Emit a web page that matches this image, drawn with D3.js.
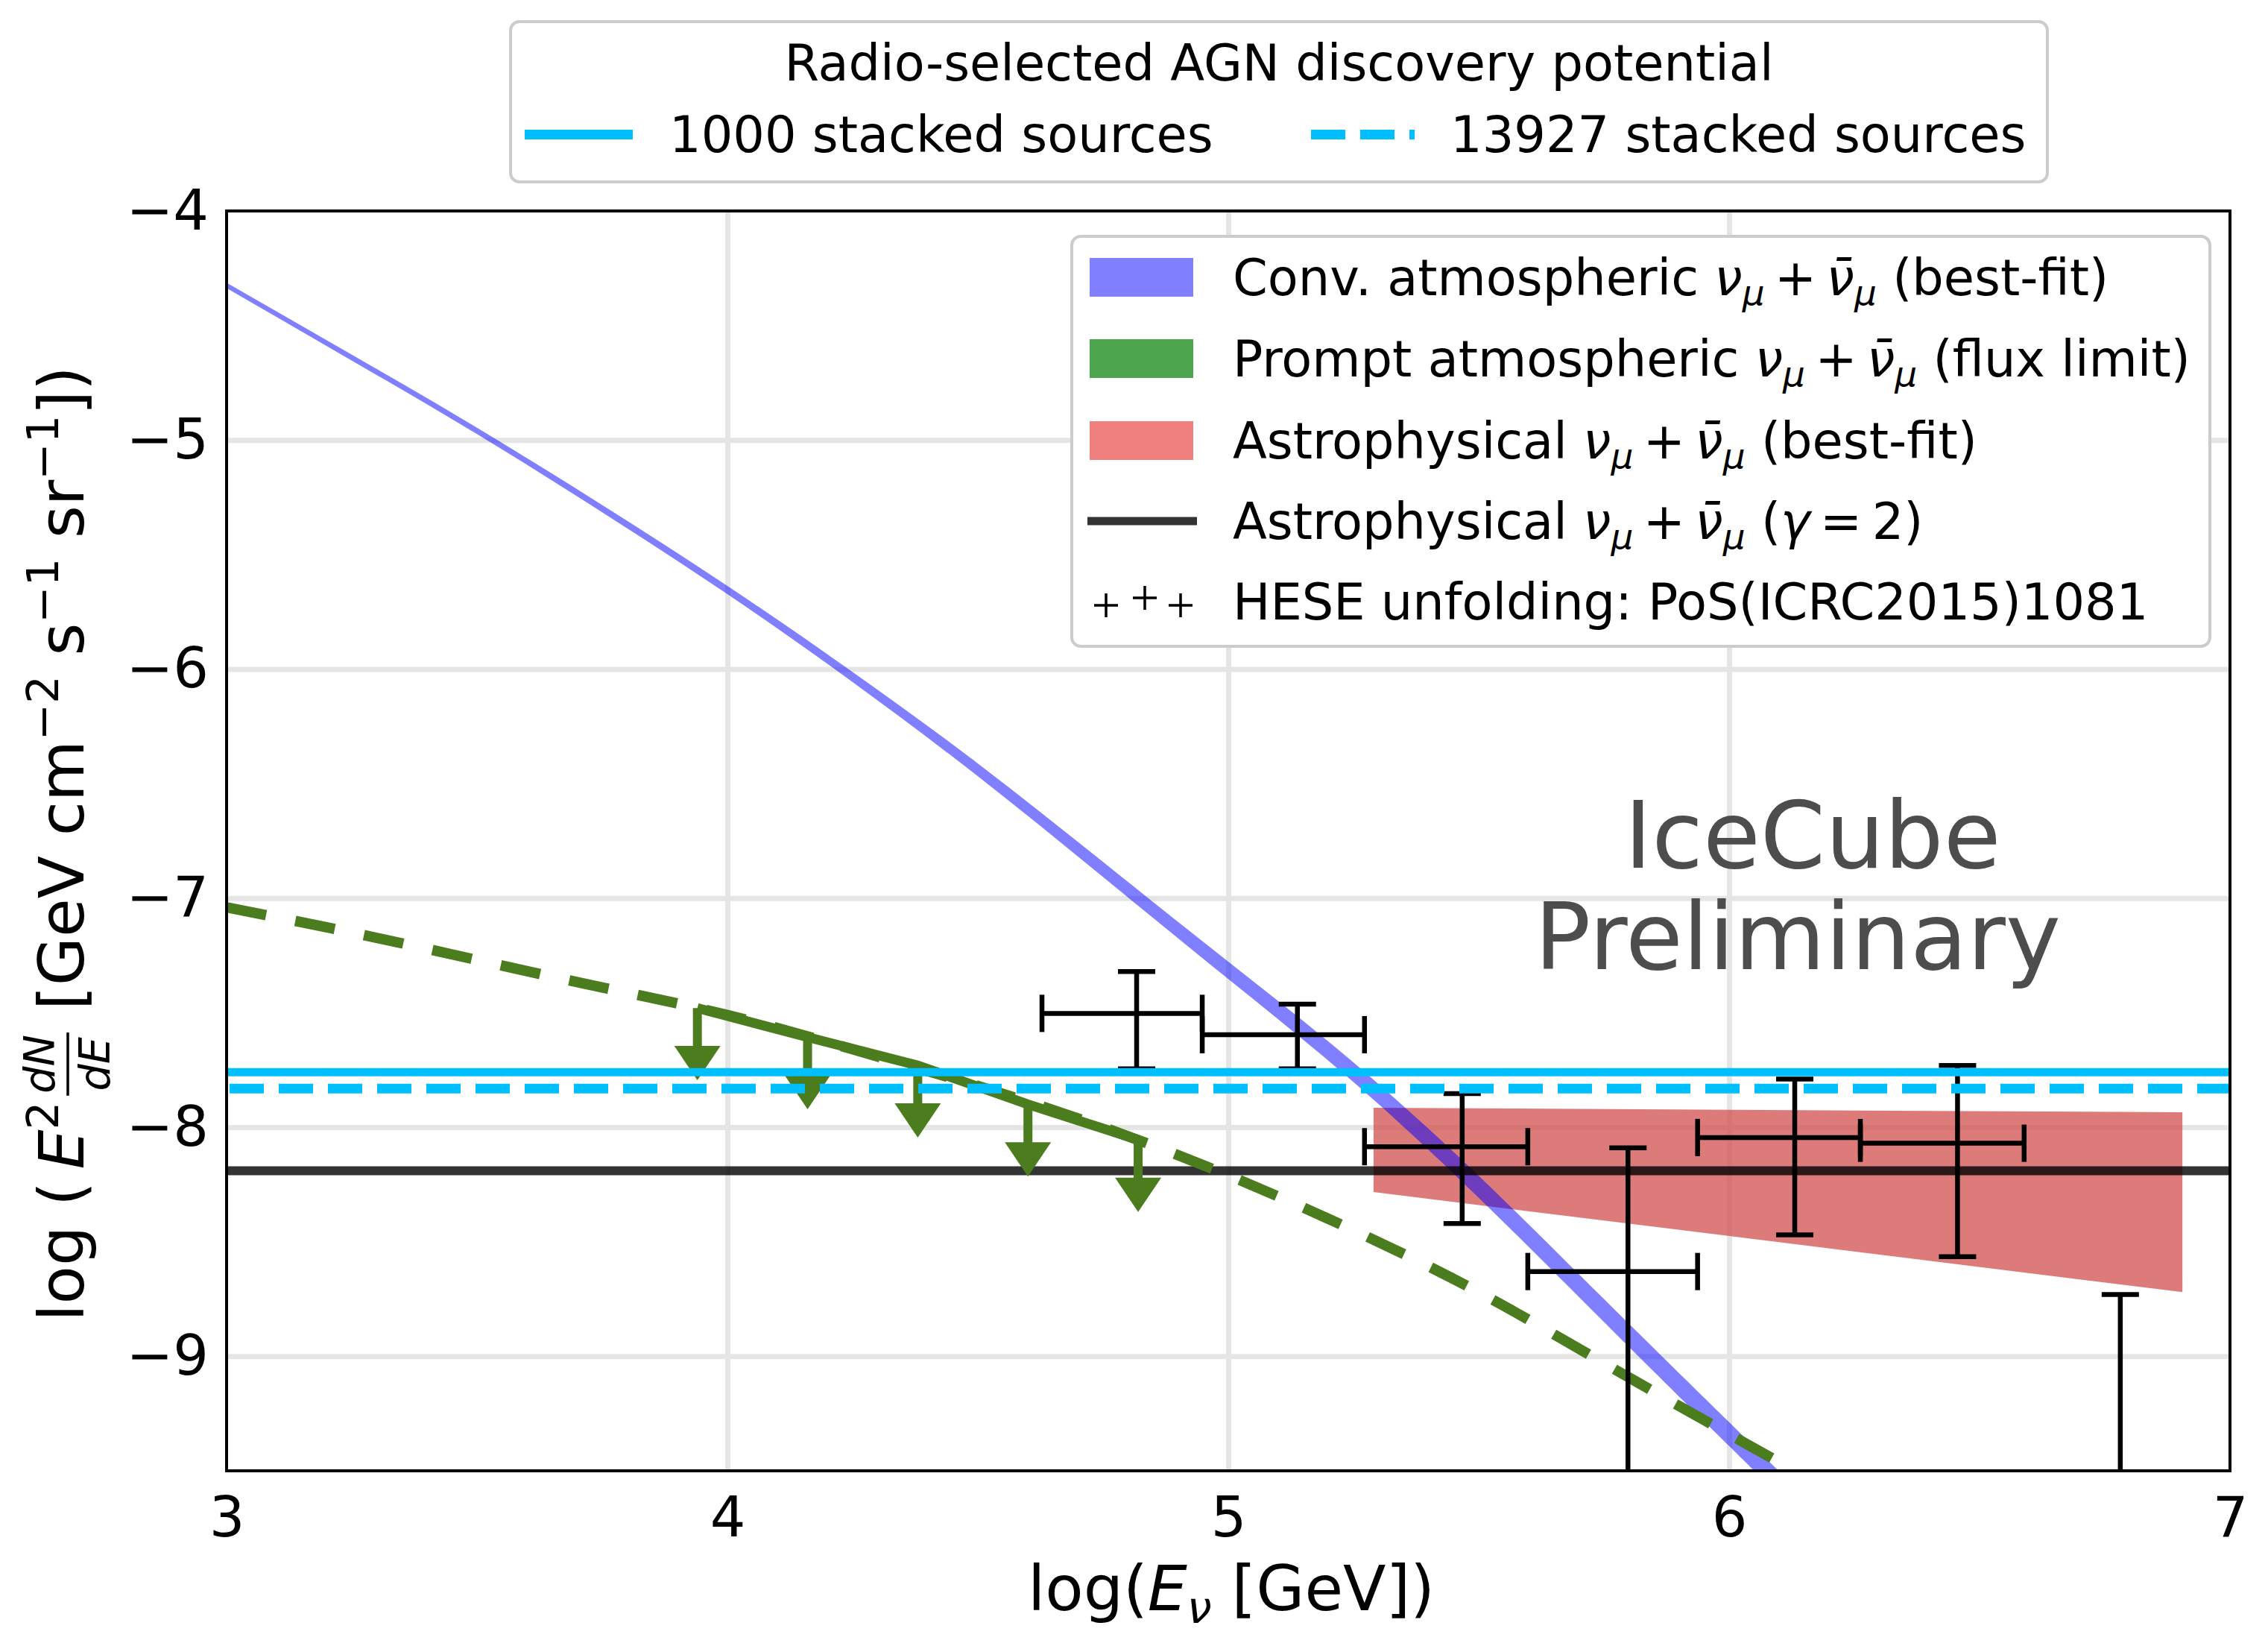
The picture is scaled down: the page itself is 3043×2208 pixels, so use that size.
<!DOCTYPE html>
<html>
<head>
<meta charset="utf-8">
<title>IceCube - AGN discovery potential</title>
<style>
  body { margin: 0; background: #fff; }
  text { font-family: "DejaVu Sans", sans-serif; white-space: pre; }
</style>
</head>
<body>
<script src="https://d3js.org/d3.v7.min.js"></script>
<script>
// conventional atmospheric band (log E, log flux)
var convX     = [3.0, 3.25, 3.5, 3.75, 4.0, 4.25, 4.5, 4.75, 5.0, 5.25, 5.5, 5.75, 6.0, 6.1];
var convUpper = [-4.313, -4.627, -4.946, -5.284, -5.637, -6.013, -6.412, -6.842, -7.277, -7.717, -8.212, -8.75, -9.288, -9.503];
var convLower = [-4.337, -4.653, -4.974, -5.316, -5.673, -6.057, -6.468, -6.908, -7.353, -7.803, -8.308, -8.85, -9.392, -9.607];

// prompt model (dashed) and the prompt flux limit with arrows
var promptX = [3.0, 3.25, 3.5, 3.75, 4.0, 4.25, 4.5, 4.75, 5.0, 5.25, 5.5, 5.75, 6.0, 6.09];
var promptY = [-7.04, -7.15, -7.27, -7.39, -7.51, -7.66, -7.82, -8.0, -8.21, -8.45, -8.72, -9.03, -9.34, -9.45];
var limitX = [3.94, 4.16, 4.38, 4.60, 4.82];
var limitY = [-7.48, -7.607, -7.73, -7.90, -8.055];
var limitDrop = 0.315;

// astrophysical best-fit band and gamma = 2 line
var astroX = [5.29, 6.905];
var astroUpper = [-7.915, -7.935];
var astroLower = [-8.283, -8.72];
var astroGamma2 = -8.19;

// discovery potentials
var dp1000 = -7.76;
var dp13927 = -7.831;

// HESE unfolding points
var heseX   = [4.817, 5.138, 5.467, 5.798, 6.131, 6.456, 6.781];
var heseXlo = [4.628, 4.948, 5.272, 5.598, 5.937, 6.262, 6.589];
var heseXhi = [4.948, 5.272, 5.598, 5.937, 6.262, 6.589, 6.91];
var heseY   = [-7.503, -7.596, -8.085, -8.63, -8.045, -8.07, -10.5];
var heseYlo = [-7.745, -7.745, -8.42, -10.5, -8.47, -8.565, -11];
var heseYhi = [-7.32, -7.463, -7.853, -8.09, -7.79, -7.73, -8.73];

var xTicks = [3, 4, 5, 6, 7];
var yTicks = [-4, -5, -6, -7, -8, -9];

var W = 3043, H = 2208;
var L = 304, R = 2992, T = 283, B = 1973;

var svg = d3.select('body').append('svg').attr('width', W).attr('height', H);
svg.append('rect').attr('width', W).attr('height', H).attr('fill', '#fff');

var x = d3.scaleLinear().domain([3, 7]).range([L, R]);
var y = d3.scaleLinear().domain([-9.5, -4]).range([B, T]);

// grid
svg.append('g').attr('transform', 'translate(0,' + B + ')')
  .call(d3.axisBottom(x).tickValues([4, 5, 6]).tickSize(-(B - T)).tickFormat(''))
  .call(function(g) {
    g.select('.domain').remove();
    g.selectAll('line').attr('stroke', '#e5e5e5').attr('stroke-width', 7);
  });
svg.append('g').attr('transform', 'translate(' + L + ',0)')
  .call(d3.axisLeft(y).tickValues([-5, -6, -7, -8, -9]).tickSize(-(R - L)).tickFormat(''))
  .call(function(g) {
    g.select('.domain').remove();
    g.selectAll('line').attr('stroke', '#e5e5e5').attr('stroke-width', 7);
  });

svg.append('defs').append('clipPath').attr('id', 'plotclip')
  .append('rect').attr('x', L).attr('y', T).attr('width', R - L).attr('height', B - T);

var plot = svg.append('g').attr('clip-path', 'url(#plotclip)');

// astrophysical band
plot.append('path')
  .datum(astroX.map(function(d, i) { return [d, astroLower[i], astroUpper[i]]; }))
  .attr('d', d3.area().x(function(d) { return x(d[0]); })
    .y0(function(d) { return y(d[1]); }).y1(function(d) { return y(d[2]); }))
  .attr('fill', '#d24d4d').attr('fill-opacity', 0.75);

// conventional atmospheric band
plot.append('path')
  .datum(convX.map(function(d, i) { return [d, convLower[i], convUpper[i]]; }))
  .attr('d', d3.area().curve(d3.curveNatural).x(function(d) { return x(d[0]); })
    .y0(function(d) { return y(d[1]); }).y1(function(d) { return y(d[2]); }))
  .attr('fill', 'blue').attr('fill-opacity', 0.5);

// astrophysical gamma=2 line
plot.append('line').attr('x1', x(3)).attr('x2', x(7))
  .attr('y1', y(astroGamma2)).attr('y2', y(astroGamma2))
  .attr('stroke', '#000').attr('stroke-opacity', 0.8).attr('stroke-width', 12);

var green = '#4b7d1e';

// prompt model, dashed
plot.append('path')
  .datum(promptX.map(function(d, i) { return [d, promptY[i]]; }))
  .attr('d', d3.line().curve(d3.curveNatural).x(function(d) { return x(d[0]); }).y(function(d) { return y(d[1]); }))
  .attr('fill', 'none').attr('stroke', green).attr('stroke-width', 14)
  .attr('stroke-dasharray', '54,40');

// prompt flux limit
plot.append('path')
  .datum(limitX.map(function(d, i) { return [d, limitY[i]]; }))
  .attr('d', d3.line().x(function(d) { return x(d[0]); }).y(function(d) { return y(d[1]); }))
  .attr('fill', 'none').attr('stroke', green).attr('stroke-width', 13);

var arrows = plot.selectAll('g.arrow').data(limitX).enter().append('g').attr('class', 'arrow');
arrows.append('line')
  .attr('x1', function(d) { return x(d); }).attr('x2', function(d) { return x(d); })
  .attr('y1', function(d, i) { return y(limitY[i]); })
  .attr('y2', function(d, i) { return y(limitY[i] - limitDrop) - 20; })
  .attr('stroke', green).attr('stroke-width', 12);
arrows.append('path')
  .attr('d', function(d, i) {
    var cx = x(d), tip = y(limitY[i] - limitDrop);
    return 'M' + (cx - 31) + ',' + (tip - 46) + 'L' + (cx + 31) + ',' + (tip - 46) + 'L' + cx + ',' + tip + 'Z';
  })
  .attr('fill', green);

// HESE error bars
var eb = plot.selectAll('g.eb').data(heseX).enter().append('g').attr('class', 'eb')
  .attr('stroke', '#000').attr('stroke-width', 6.5).attr('fill', 'none');
eb.append('line')
  .attr('x1', function(d, i) { return x(heseXlo[i]); }).attr('x2', function(d, i) { return x(heseXhi[i]); })
  .attr('y1', function(d, i) { return y(heseY[i]); }).attr('y2', function(d, i) { return y(heseY[i]); });
eb.append('line')
  .attr('x1', function(d) { return x(d); }).attr('x2', function(d) { return x(d); })
  .attr('y1', function(d, i) { return y(heseYlo[i]); }).attr('y2', function(d, i) { return y(heseYhi[i]); });
[heseYlo, heseYhi].forEach(function(arr) {
  eb.append('line')
    .attr('x1', function(d) { return x(d) - 25; }).attr('x2', function(d) { return x(d) + 25; })
    .attr('y1', function(d, i) { return y(arr[i]); }).attr('y2', function(d, i) { return y(arr[i]); });
});
[heseXlo, heseXhi].forEach(function(arr) {
  eb.append('line')
    .attr('x1', function(d, i) { return x(arr[i]); }).attr('x2', function(d, i) { return x(arr[i]); })
    .attr('y1', function(d, i) { return y(heseY[i]) - 25; }).attr('y2', function(d, i) { return y(heseY[i]) + 25; });
});

// discovery potential lines
plot.append('line').attr('x1', x(3)).attr('x2', x(7))
  .attr('y1', y(dp1000)).attr('y2', y(dp1000))
  .attr('stroke', '#00bfff').attr('stroke-width', 11);
plot.append('line').attr('x1', x(3)).attr('x2', x(7))
  .attr('y1', y(dp13927)).attr('y2', y(dp13927))
  .attr('stroke', '#00bfff').attr('stroke-width', 13)
  .attr('stroke-dasharray', '46,20').attr('stroke-dashoffset', -4);

// IceCube Preliminary
svg.append('text').attr('x', 2432).attr('y', 1164).attr('text-anchor', 'middle')
  .attr('font-size', 125).attr('fill', '#4d4d4d').text('IceCube');
svg.append('text').attr('x', 2412).attr('y', 1300).attr('text-anchor', 'middle')
  .attr('font-size', 125).attr('fill', '#4d4d4d').text('Preliminary');

// frame
svg.append('rect').attr('x', L).attr('y', T).attr('width', R - L).attr('height', B - T)
  .attr('fill', 'none').attr('stroke', '#000').attr('stroke-width', 4);

// tick labels
svg.append('g').attr('transform', 'translate(0,' + B + ')')
  .call(d3.axisBottom(x).tickValues(xTicks).tickSize(0).tickPadding(35).tickFormat(d3.format('d')))
  .call(function(g) {
    g.select('.domain').remove();
    g.attr('font-size', 75).attr('font-family', 'DejaVu Sans');
    g.selectAll('text').attr('fill', '#000');
  });
svg.append('g').attr('transform', 'translate(' + L + ',0)')
  .call(d3.axisLeft(y).tickValues(yTicks).tickSize(0).tickPadding(24).tickFormat(d3.format('d')))
  .call(function(g) {
    g.select('.domain').remove();
    g.attr('font-size', 75).attr('font-family', 'DejaVu Sans');
    g.selectAll('text').attr('fill', '#000');
  });

// math-ish text helper: n = normal, i = italic, s = italic subscript
function mathText(sel, pieces, size) {
  var shift = 0;
  pieces.forEach(function(p) {
    var ts = sel.append('tspan').text(p[0]);
    var want = p[1] === 's' ? Math.round(size * 0.2) : 0;
    if (want !== shift) { ts.attr('dy', want - shift); shift = want; }
    if (p[1] !== 'n') ts.attr('font-style', 'italic');
    if (p[1] === 's') ts.attr('font-size', Math.round(size * 0.7));
  });
}

// x label
var xl = svg.append('text').attr('x', 1652).attr('y', 2160).attr('text-anchor', 'middle').attr('font-size', 84);
mathText(xl, [['log(', 'n'], ['E', 'i'], ['ν', 's'], [' [GeV])', 'n']], 84);

// y label (rotated, assembled piece by piece)
var ylg = svg.append('g').attr('font-size', 84);
var yp1 = ylg.append('text').attr('x', 0).attr('y', 0);
yp1.append('tspan').text('log (\u2009');
yp1.append('tspan').attr('font-style', 'italic').text('E');
yp1.append('tspan').attr('font-size', 59).attr('dy', -34).text('2');
var w1 = yp1.node().getComputedTextLength();
var fx = w1 + 8;
var num = ylg.append('text').attr('font-size', 57).attr('font-style', 'italic').attr('y', -39).attr('text-anchor', 'middle').text('dN');
var den = ylg.append('text').attr('font-size', 57).attr('font-style', 'italic').attr('y', 35).attr('text-anchor', 'middle').text('dE');
var fw = Math.max(num.node().getComputedTextLength(), den.node().getComputedTextLength()) + 6;
num.attr('x', fx + fw / 2);
den.attr('x', fx + fw / 2);
ylg.append('line').attr('x1', fx).attr('x2', fx + fw).attr('y1', -21).attr('y2', -21)
  .attr('stroke', '#000').attr('stroke-width', 3.5);
var gap2 = 30;
var yp2 = ylg.append('text').attr('x', fx + fw + gap2).attr('y', 0);
[['[GeV cm', 0], ['−2', 1], [' s', 0], ['−1', 1], [' sr', 0], ['−1', 1], ['])', 0]].forEach(function(p, i, a) {
  var ts = yp2.append('tspan').text(p[0]);
  if (p[1]) ts.attr('font-size', 59).attr('dy', -34);
  else if (i > 0 && a[i - 1][1]) ts.attr('dy', 34);
});
var total = fx + fw + gap2 + yp2.node().getComputedTextLength();
ylg.attr('transform', 'translate(112,' + (1132 + total / 2) + ') rotate(-90)');

// top legend
var tl = svg.append('g');
tl.append('rect').attr('x', 685).attr('y', 29).attr('width', 2062).attr('height', 215).attr('rx', 12)
  .attr('fill', '#fff').attr('stroke', '#cccccc').attr('stroke-width', 4);
tl.append('text').attr('x', 1716).attr('y', 108).attr('text-anchor', 'middle').attr('font-size', 67)
  .text('Radio-selected AGN discovery potential');
tl.append('line').attr('x1', 704).attr('x2', 849).attr('y1', 180.5).attr('y2', 180.5)
  .attr('stroke', '#00bfff').attr('stroke-width', 13);
tl.append('text').attr('x', 898).attr('y', 204).attr('font-size', 67).text('1000 stacked sources');
tl.append('line').attr('x1', 1759).attr('x2', 1898).attr('y1', 180.5).attr('y2', 180.5)
  .attr('stroke', '#00bfff').attr('stroke-width', 13).attr('stroke-dasharray', '46,20');
tl.append('text').attr('x', 1946).attr('y', 204).attr('font-size', 67).text('13927 stacked sources');

// inner legend
var il = svg.append('g');
il.append('rect').attr('x', 1438).attr('y', 317).attr('width', 1527).attr('height', 550).attr('rx', 12)
  .attr('fill', '#fff').attr('stroke', '#cccccc').attr('stroke-width', 4);
var rows = [372, 481, 591, 699, 807];
il.append('rect').attr('x', 1462).attr('y', rows[0] - 26).attr('width', 139).attr('height', 52).attr('fill', '#8080ff');
il.append('rect').attr('x', 1462).attr('y', rows[1] - 26).attr('width', 139).attr('height', 52).attr('fill', '#4da64d');
il.append('rect').attr('x', 1462).attr('y', rows[2] - 26).attr('width', 139).attr('height', 52).attr('fill', '#f08080');
il.append('line').attr('x1', 1459).attr('x2', 1606).attr('y1', rows[3]).attr('y2', rows[3])
  .attr('stroke', '#333').attr('stroke-width', 11);
[[1484, 812], [1536, 802], [1584, 812]].forEach(function(p) {
  il.append('path').attr('d', 'M' + (p[0] - 16) + ',' + p[1] + 'h32M' + p[0] + ',' + (p[1] - 16) + 'v32')
    .attr('stroke', '#000').attr('stroke-width', 3.5);
});
var nuPieces = [['ν', 'i'], ['μ', 's'], ['\u2009+\u2009', 'n'], ['ν\u0304', 'i'], ['μ', 's']];
var labels = [
  [['Conv. atmospheric ', 'n']].concat(nuPieces, [[' (best-fit)', 'n']]),
  [['Prompt atmospheric ', 'n']].concat(nuPieces, [[' (flux limit)', 'n']]),
  [['Astrophysical ', 'n']].concat(nuPieces, [[' (best-fit)', 'n']]),
  [['Astrophysical ', 'n']].concat(nuPieces, [[' (', 'n'], ['γ', 'i'], ['\u2009=\u20092)', 'n']]),
  [['HESE unfolding: PoS(ICRC2015)1081', 'n']]
];
labels.forEach(function(pc, i) {
  var t = il.append('text').attr('x', 1654).attr('y', rows[i] + 24).attr('font-size', 67);
  mathText(t, pc, 67);
});
</script>
</body>
</html>
